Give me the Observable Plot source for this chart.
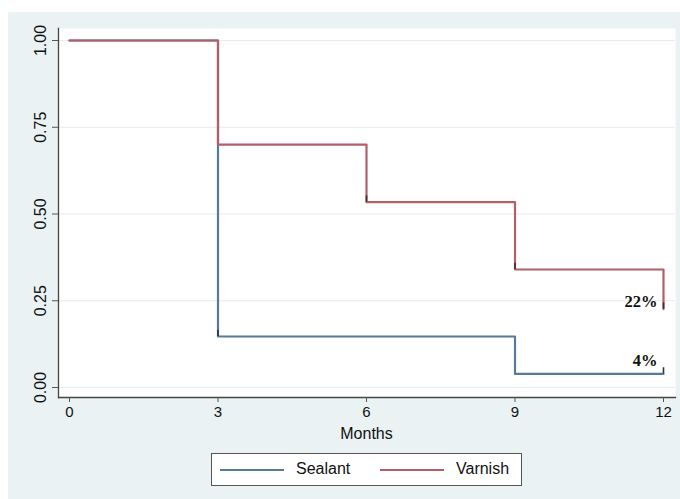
<!DOCTYPE html>
<html><head><meta charset="utf-8">
<script src="https://cdn.jsdelivr.net/npm/d3@7"></script>
<script src="https://cdn.jsdelivr.net/npm/@observablehq/plot@0.6"></script>
<style>
body{margin:0;background:#fff;font-family:"Liberation Sans",Arial,Helvetica,sans-serif;}
#panel{position:absolute;left:8px;top:12px;width:672px;height:487px;background:#EAF2F3;overflow:hidden;}
#chart{position:absolute;left:0;top:0;}
#xlabel{position:absolute;left:0;width:717px;top:413px;text-align:center;font-size:16px;color:#111;}
#legend{position:absolute;left:203px;top:441px;width:311px;height:33px;background:#fff;border:1.4px solid #555;box-sizing:border-box;font-size:16px;color:#111;}
.sw{position:absolute;top:15px;height:2px;width:64px;}
.lt{position:absolute;top:6px;}
</style></head>
<body>
<div id="panel">
  <div id="chart"></div>
  <div id="xlabel">Months</div>
  <div id="legend"></div>
</div>
<script>
const monthTicks = [0, 3, 6, 9, 12];
const survTicks = [0, 0.25, 0.5, 0.75, 1];
const seriesNames = ["Sealant", "Varnish"];
const seriesColors = ["#58799A", "#B25F69"];
const sealantMonths = [0, 3, 9, 12];
const sealantSurv = [1, 0.147, 0.039, 0.039];
const varnishMonths = [0, 3, 6, 9, 12];
const varnishSurv = [1, 0.70, 0.534, 0.34, 0.226];
const markSeries = ["Sealant", "Varnish", "Varnish", "Varnish", "Sealant"];
const markMonths = [3, 6, 9, 12, 12];
const markSurv = [0.147, 0.534, 0.34, 0.226, 0.039];
const annotLabels = ["22%", "4%"];
const annotMonths = [12, 12];
const annotSurv = [0.247, 0.077];

const sealant = sealantMonths.map((m, i) => ({series: "Sealant", month: m, surv: sealantSurv[i]}));
const varnish = varnishMonths.map((m, i) => ({series: "Varnish", month: m, surv: varnishSurv[i]}));
const marksData = markMonths.map((m, i) => ({series: markSeries[i], month: m, surv: markSurv[i]}));
const annots = annotLabels.map((l, i) => ({label: l, month: annotMonths[i], surv: annotSurv[i]}));

const chart = Plot.plot({
  width: 672, height: 440,
  marginLeft: 50, marginRight: 5, marginTop: 16, marginBottom: 55,
  x: {domain: [0, 12], insetLeft: 11, insetRight: 12},
  y: {domain: [0, 1], insetTop: 12, insetBottom: 10},
  color: {domain: seriesNames, range: seriesColors},
  style: {fontFamily: '"Liberation Sans", Arial, Helvetica, sans-serif', fontSize: "16px", background: "transparent", overflow: "visible", color: "#111"},
  marks: [
    Plot.frame({fill: "white", stroke: null}),
    Plot.gridY(survTicks, {stroke: "#E4EDEF", strokeOpacity: 1, strokeWidth: 1.2}),
    Plot.frame({anchor: "left", stroke: "#444", strokeWidth: 1.3}),
    Plot.frame({anchor: "bottom", stroke: "#444", strokeWidth: 1.3}),
    Plot.axisY({ticks: survTicks, tickFormat: d3.format(".2f"), tickRotate: -90, tickSize: 6, tickPadding: 7, label: null, stroke: "#555", fill: "#111", fontSize: "16px"}),
    Plot.axisX({ticks: monthTicks, tickSize: 5, tickPadding: 4, label: null, stroke: "#555", fill: "#111", fontSize: "15px"}),
    Plot.line(sealant, {x: "month", y: "surv", stroke: "series", curve: "step-after", strokeWidth: 2.2}),
    Plot.line(varnish, {x: "month", y: "surv", stroke: "series", curve: "step-after", strokeWidth: 2.2}),
    Plot.ruleX(marksData, {x: "month", y1: "surv", y2: d => d.surv + 0.018, stroke: "#333", strokeWidth: 1.6}),
    Plot.text(annots, {x: "month", y: "surv", text: "label", textAnchor: "end", dx: -6, fontFamily: '"Liberation Serif", "Times New Roman", serif', fontWeight: "bold", fontSize: "16.5px", fill: "#111"})
  ]
});
document.getElementById("chart").append(chart);

const legend = document.getElementById("legend");
const swLeft = [8, 168], txtLeft = [84, 244];
seriesNames.forEach((n, i) => {
  const s = document.createElement("div"); s.className = "sw"; s.style.left = swLeft[i] + "px"; s.style.background = seriesColors[i]; legend.append(s);
  const t = document.createElement("div"); t.className = "lt"; t.style.left = txtLeft[i] + "px"; t.textContent = n; legend.append(t);
});
</script>
</body></html>
